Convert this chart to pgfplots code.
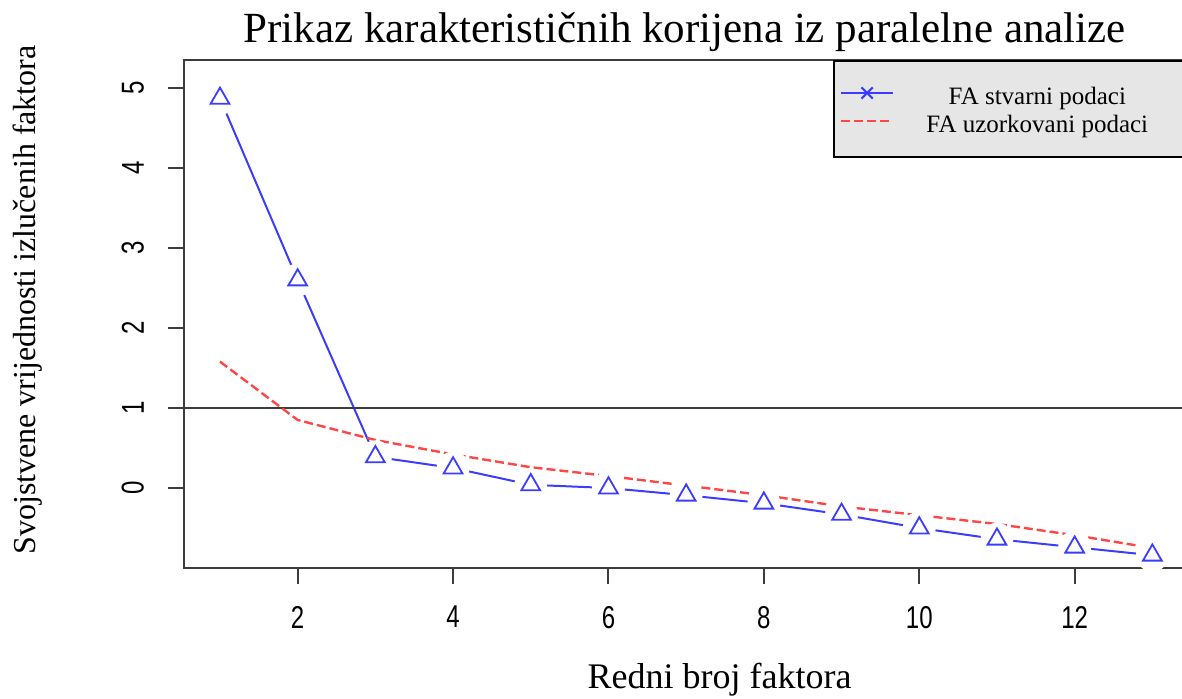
\documentclass[border=0pt]{standalone}
\usepackage{fontspec}
\setmainfont{Liberation Serif}
\newfontfamily\tickfamily[FakeStretch=0.76]{Liberation Sans}
\usepackage{pgfplots}
\pgfplotsset{compat=1.18}
\definecolor{bl}{RGB}{60,60,255}
\definecolor{rd}{RGB}{255,70,70}
\definecolor{ax}{RGB}{60,60,60}
\definecolor{lg}{RGB}{230,230,230}
\begin{document}
\begin{tikzpicture}
\clip (0,0) rectangle (591pt,349pt);
\begin{axis}[
  at={(92pt,65pt)}, anchor=south west,
  scale only axis, width=503.6pt, height=254pt,
  xmin=0.537, xmax=13.5, ymin=-1, ymax=5.35,
  axis on top,
  axis line style={ax, line width=1pt},
  xtick={2,4,...,12}, ytick={0,1,2,3,4,5},
  tick pos=left,
  tick style={ax, line width=1pt},
  tick align=outside, major tick length=8pt,
  /pgf/number format/assume math mode=true,
  ticklabel style={font=\tickfamily\fontsize{15.8}{18}\selectfont, text=black},
  yticklabel style={rotate=90, anchor=south},
  xticklabel shift=7.5pt,
  yticklabel shift=8.5pt,
  title={Prikaz karakterističnih korijena iz paralelne analize},
  title style={at={(axis cs:6.98,5.42)}, anchor=base, font=\fontsize{21.5}{24}\selectfont},
  xlabel={Redni broj faktora},
  xlabel style={at={(axis cs:7.43,-2.5)}, anchor=base, font=\fontsize{18}{20}\selectfont},
  ylabel={Svojstvene vrijednosti izlučenih faktora},
  ylabel style={at={(axis cs:-1.38,2.35)}, anchor=base, font=\fontsize{16}{20}\selectfont},
  legend cell align=center,
  legend style={at={(axis cs:8.889,5.35)}, anchor=north west, fill=lg, draw=black,
    line width=1pt, font=\fontsize{12.5}{14}\selectfont, inner xsep=3pt, inner ysep=10pt,
    row sep=0pt, nodes={inner sep=1pt, text height=11pt, text depth=1pt}},
  legend image code/.code={\draw[mark repeat=2,mark phase=2,yshift=1pt,#1] plot coordinates {(0pt,0pt) (13pt,0pt) (26pt,0pt)};},
]
% blue line
\addplot[bl, line width=1pt, forget plot] coordinates {
 (1,4.87) (2,2.60) (3,0.39) (4,0.25) (5,0.04) (6,0.00) (7,-0.09) (8,-0.19) (9,-0.33) (10,-0.50) (11,-0.64) (12,-0.74) (13,-0.84)};
% white gaps around points
\addplot[white, only marks, mark=*, mark size=8pt, forget plot] coordinates {
 (1,4.87) (2,2.60) (3,0.39) (4,0.25) (5,0.04) (6,0.00) (7,-0.09) (8,-0.19) (9,-0.33) (10,-0.50) (11,-0.64) (12,-0.74) (13,-0.84)};
\addplot[only marks, mark=triangle, mark size=5.4pt, mark options={bl, line width=0.9pt}, forget plot] coordinates {
 (1,4.87) (2,2.60) (3,0.39) (4,0.25) (5,0.04) (6,0.00) (7,-0.09) (8,-0.19) (9,-0.33) (10,-0.50) (11,-0.64) (12,-0.74) (13,-0.84)};
% reference line
\addplot[ax, line width=1pt, forget plot] coordinates {(0.537,1) (13.5,1)};
% red dashed
\addplot[rd, line width=1.2pt, dash pattern=on 4.5pt off 2pt, forget plot] coordinates {
 (1,1.58) (2,0.85) (3,0.60) (4,0.42) (5,0.26) (6,0.15) (7,0.03) (8,-0.09) (9,-0.23) (10,-0.34) (11,-0.45) (12,-0.59) (13,-0.75)};
\addlegendimage{bl, line width=1pt, mark=x, mark size=4pt, mark options={solid}}
\addlegendentry{\makebox[141pt][c]{FA stvarni podaci}\hspace*{20pt}}
\addlegendimage{rd, line width=1.2pt, dash pattern=on 4.5pt off 2pt}
\addlegendentry{\makebox[141pt][c]{FA uzorkovani podaci}\hspace*{20pt}}
\end{axis}
\end{tikzpicture}
\end{document}
